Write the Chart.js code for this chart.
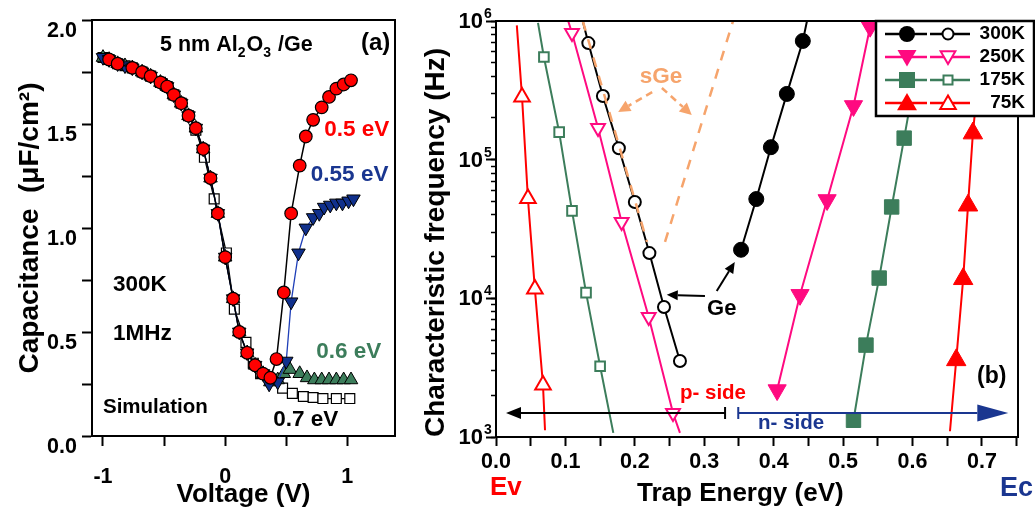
<!DOCTYPE html>
<html><head><meta charset="utf-8">
<script src="https://cdn.jsdelivr.net/npm/chart.js@4.4.1/dist/chart.umd.min.js"></script>
<style>
html,body{margin:0;padding:0;background:#fff;}
#wrap{position:relative;width:1035px;height:510px;overflow:hidden;background:#fff}
#c1{position:absolute;left:0;top:0}
#c2{position:absolute;left:415px;top:0}
</style></head><body>
<div id="wrap"><canvas id="c1" width="415" height="510"></canvas><canvas id="c2" width="620" height="510"></canvas></div>
<script>
// ================= Panel (a): simulated C-V curves =================
const v05  = [-0.95,-0.88,-0.76,-0.68,-0.61,-0.53,-0.475,-0.42,-0.36,-0.30,-0.24,-0.18,-0.12,-0.06,0.00,0.065,0.115,0.18,0.245,0.31,0.37,0.42,0.48,0.54,0.61,0.66,0.72,0.79,0.85,0.91,0.97,1.03];
const c05  = [1.81,1.79,1.77,1.75,1.73,1.70,1.68,1.64,1.60,1.54,1.48,1.38,1.24,1.07,0.86,0.66,0.50,0.40,0.34,0.30,0.28,0.37,0.69,1.07,1.30,1.44,1.52,1.58,1.63,1.67,1.69,1.71];
const v055 = [-1.00,-0.95,-0.88,-0.82,-0.76,-0.68,-0.61,-0.53,-0.475,-0.42,-0.36,-0.30,-0.24,-0.18,-0.12,-0.06,0.00,0.065,0.115,0.18,0.245,0.31,0.36,0.43,0.50,0.54,0.60,0.66,0.72,0.77,0.81,0.86,0.91,0.96,1.01,1.05];
const c055 = [1.82,1.81,1.79,1.78,1.77,1.75,1.73,1.70,1.68,1.64,1.60,1.54,1.48,1.38,1.24,1.07,0.86,0.66,0.50,0.40,0.34,0.30,0.25,0.26,0.36,0.645,0.88,1.00,1.05,1.07,1.10,1.11,1.12,1.12,1.13,1.14];
const v06  = [-1.00,-0.95,-0.88,-0.82,-0.76,-0.68,-0.61,-0.53,-0.475,-0.42,-0.36,-0.30,-0.24,-0.18,-0.12,-0.06,0.00,0.065,0.115,0.18,0.245,0.31,0.37,0.43,0.48,0.53,0.61,0.67,0.73,0.79,0.85,0.91,0.97,1.03];
const c06  = [1.82,1.81,1.79,1.78,1.77,1.75,1.73,1.70,1.68,1.64,1.60,1.54,1.48,1.38,1.24,1.07,0.86,0.66,0.50,0.40,0.34,0.30,0.26,0.27,0.30,0.32,0.30,0.28,0.27,0.27,0.27,0.27,0.27,0.27];
const v07  = [-1.00,-0.95,-0.88,-0.82,-0.76,-0.68,-0.61,-0.53,-0.475,-0.42,-0.36,-0.30,-0.24,-0.17,-0.09,0.01,0.075,0.17,0.23,0.29,0.38,0.47,0.55,0.64,0.72,0.80,0.91,1.02];
const c07  = [1.82,1.81,1.79,1.78,1.77,1.75,1.73,1.70,1.68,1.64,1.60,1.54,1.47,1.34,1.14,0.88,0.61,0.45,0.35,0.30,0.27,0.23,0.205,0.19,0.185,0.18,0.18,0.18];
const voltTicks  = [-1, -0.5, 0, 0.5, 1];
const voltLabels = ['-1', '', '0', '', '1'];
const capTicks   = [0, 0.25, 0.5, 0.75, 1, 1.25, 1.5, 1.75, 2];
const capLabels  = ['0.0', '', '0.5', '', '1.0', '', '1.5', '', '2.0'];

// ================= Panel (b): characteristic frequency vs trap energy =================
// markers (E in eV, f in Hz); *_start / *_end = where the drawn line runs past the last marker
const e300f = [0.353,0.375,0.396,0.419,0.442];  const f300f = [2.24e4,5.2e4,1.23e5,2.98e5,7.18e5];
const l300f_start = null, l300f_end = [0.448,1e6];
const e300o = [0.133,0.154,0.177,0.200,0.221,0.242,0.265]; const f300o = [6.93e5,2.88e5,1.21e5,4.95e4,2.12e4,8.65e3,3.53e3];
const l300o_start = [0.125,1e6], l300o_end = null;
const e250f = [0.405,0.438,0.477,0.515,0.539];  const f250f = [2.18e3,1.06e4,5.12e4,2.44e5,9.1e5];
const l250f_start = null, l250f_end = [0.543,1e6];
const e250o = [0.1095,0.147,0.181,0.220,0.255]; const f250o = [8.18e5,1.69e5,3.55e4,7.33e3,1.49e3];
const l250o_start = [0.104,1e6], l250o_end = [0.265,1.07e3];
const e175f = [0.515,0.533,0.552,0.570,0.588];  const f175f = [1.32e3,4.6e3,1.40e4,4.56e4,1.43e5];
const l175f_start = null, l175f_end = [0.618,1e6];
const e175o = [0.069,0.091,0.1095,0.1297,0.150]; const f175o = [5.5e5,1.58e5,4.27e4,1.10e4,3.24e3];
const l175o_start = [0.0605,9.7e5], l175o_end = [0.169,1.07e3];
const e75f = [0.663,0.673,0.680,0.687];  const f75f = [3.59e3,1.38e4,4.68e4,1.55e5];
const l75f_start = [0.654,1.1e3], l75f_end = [0.703,1e6];
const e75o = [0.0375,0.046,0.056,0.0677]; const f75o = [2.83e5,5.25e4,1.17e4,2.37e3];
const l75o_start = [0.030,9.3e5], l75o_end = [0.0706,1.12e3];
const eSgeL = [0.125,0.2176], fSgeL = [1e6,2.55e4];
const eSgeR = [0.2435,0.3415], fSgeR = [2.55e4,1e6];
const legendLabels = ['300K','250K','175K','75K'];
const energyTicks = [0,0.05,0.1,0.15,0.2,0.25,0.3,0.35,0.4,0.45,0.5,0.55,0.6,0.65,0.7,0.75];
const energyLabels = ['0.0','','0.1','','0.2','','0.3','','0.4','','0.5','','0.6','','0.7',''];
const freqDecades = [1e3,1e4,1e5,1e6];
const freqExponents = ['3','4','5','6'];
const freqMinorTicks = [1e3,2e3,3e3,4e3,5e3,6e3,7e3,8e3,9e3,1e4,2e4,3e4,4e4,5e4,6e4,7e4,8e4,9e4,1e5,2e5,3e5,4e5,5e5,6e5,7e5,8e5,9e5,1e6];

// ================= styling =================
const FONT = '"Liberation Sans", Arial, Helvetica, sans-serif';
Chart.defaults.font.family = FONT;
Chart.defaults.font.weight = 'bold';
Chart.defaults.color = '#000';
const RED = '#ff0000', PINK = '#ff0a80', GREEN = '#3c7d5b', NAVY = '#1a3690', BLUE = '#1f3fb8', ORANGE = '#f6a46c';

function series(xs, ys, start, end) {
  const pts = xs.map((x, i) => ({x, y: ys[i]}));
  if (start) pts.unshift({x: start[0], y: start[1], tail: true});
  if (end) pts.push({x: end[0], y: end[1], tail: true});
  return pts;
}
function ds(data, o) {
  return {
    label: o.label, data,
    borderColor: o.line, borderWidth: o.lw, borderDash: o.dash || [],
    pointStyle: o.style || 'circle', pointRotation: o.rot || 0,
    pointRadius: c => (c.raw && c.raw.tail) ? 0 : (o.r || 0),
    pointBackgroundColor: o.bg || '#fff', pointBorderColor: o.bc || '#000', pointBorderWidth: o.bw || 1,
    pointHoverRadius: 0, tension: 0, fill: false, showLine: true
  };
}
function txt(ctx, s, x, y, size, color, align) {
  ctx.font = 'bold ' + size + 'px ' + FONT;
  ctx.fillStyle = color; ctx.textAlign = align || 'left'; ctx.textBaseline = 'middle';
  ctx.fillText(s, x, y);
}
function arrow(ctx, x1, y1, x2, y2, len, half, color, lw, dash) {
  const a = Math.atan2(y2 - y1, x2 - x1);
  const bx = x2 - len * Math.cos(a), by = y2 - len * Math.sin(a);
  ctx.save();
  ctx.strokeStyle = color; ctx.fillStyle = color; ctx.lineWidth = lw;
  ctx.setLineDash(dash || []);
  ctx.beginPath(); ctx.moveTo(x1, y1); ctx.lineTo(bx, by); ctx.stroke();
  ctx.setLineDash([]);
  ctx.beginPath(); ctx.moveTo(x2, y2);
  ctx.lineTo(bx + half * Math.sin(a), by - half * Math.cos(a));
  ctx.lineTo(bx - half * Math.sin(a), by + half * Math.cos(a));
  ctx.closePath(); ctx.fill();
  ctx.restore();
}
function marker(ctx, style, x, y, r, fill, stroke, lw, rot) {
  ctx.save();
  ctx.beginPath();
  if (style === 'circle') ctx.arc(x, y, r, 0, Math.PI * 2);
  else if (style === 'rect') ctx.rect(x - r, y - r, 2 * r, 2 * r);
  else {
    let a = rot ? Math.PI : 0;
    ctx.moveTo(x + Math.sin(a) * r, y - Math.cos(a) * r);
    a += 2 * Math.PI / 3; ctx.lineTo(x + Math.sin(a) * r, y - Math.cos(a) * r);
    a += 2 * Math.PI / 3; ctx.lineTo(x + Math.sin(a) * r, y - Math.cos(a) * r);
    ctx.closePath();
  }
  ctx.fillStyle = fill; ctx.fill();
  if (lw) { ctx.strokeStyle = stroke; ctx.lineWidth = lw; ctx.stroke(); }
  ctx.restore();
}
function frame(ctx, ca) {
  ctx.save(); ctx.strokeStyle = '#000'; ctx.lineWidth = 2;
  ctx.strokeRect(ca.left, ca.top, ca.right - ca.left, ca.bottom - ca.top);
  ctx.restore();
}

// ================= Panel (a) chart =================
const leftTexts = [
  {t: '0.5 eV',     x: 1.344,  y: 1.471, size: 22.5, color: RED,    align: 'right'},
  {t: '0.55 eV',    x: 1.336,  y: 1.255, size: 22.5, color: NAVY,   align: 'right'},
  {t: '300K',       x: -0.918, y: 0.726, size: 22.5, color: '#000', align: 'left'},
  {t: '1MHz',       x: -0.918, y: 0.490, size: 22.5, color: '#000', align: 'left'},
  {t: '0.6 eV',     x: 0.746,  y: 0.404, size: 22.5, color: GREEN,  align: 'left'},
  {t: 'Simulation', x: -1.0,   y: 0.139, size: 20.5, color: '#000', align: 'left'},
  {t: '0.7 eV',     x: 0.393,  y: 0.077, size: 22.5, color: '#000', align: 'left'},
  {t: '(a)',        x: 1.352,  y: 1.89,  size: 24,   color: '#000', align: 'right'}
];
const leftPlugin = {
  id: 'leftAnno',
  afterDatasetsDraw(chart) {
    const {ctx, chartArea: ca, scales: {x, y}} = chart;
    frame(ctx, ca);
    ctx.save();
    leftTexts.forEach(o => txt(ctx, o.t, x.getPixelForValue(o.x), y.getPixelForValue(o.y), o.size, o.color, o.align));
    // 5 nm Al2O3 /Ge with subscripts
    let px = x.getPixelForValue(-0.533), py = y.getPixelForValue(1.88);
    const parts = [['5 nm Al', 0], ['2', 1], ['O', 0], ['3', 1], [' /Ge', 0]];
    parts.forEach(([s, sub]) => {
      const size = sub ? 14 : 21.5;
      ctx.font = 'bold ' + size + 'px ' + FONT;
      txt(ctx, s, px, sub ? py + 8 : py, size, '#000', 'left');
      px += ctx.measureText(s).width + (sub ? 1 : 0);
    });
    ctx.restore();
  }
};

new Chart(document.getElementById('c1'), {
  type: 'line',
  data: {datasets: [
    ds(series(v05, c05), {label: '0.5 eV', style: 'circle', r: 6.3, bg: RED, bc: '#000', bw: 1.2, line: '#000', lw: 1.5}),
    ds(series(v055, c055), {label: '0.55 eV', style: 'triangle', rot: 180, r: 7.8, bg: '#10308c', bc: '#000', bw: 1, line: BLUE, lw: 1.3}),
    ds(series(v06, c06), {label: '0.6 eV', style: 'triangle', r: 7.8, bg: GREEN, bc: '#000', bw: 1, line: '#000', lw: 1.2}),
    ds(series(v07, c07), {label: '0.7 eV', style: 'rect', r: 7, bg: '#fff', bc: '#000', bw: 1.2, line: '#000', lw: 1.3})
  ]},
  options: {
    responsive: false, animation: false, events: [],
    layout: {padding: {left: 0, top: 20, right: 20, bottom: 0}},
    plugins: {legend: {display: false}, tooltip: {enabled: false}},
    scales: {
      x: {
        type: 'linear', min: -1.09, max: 1.39,
        afterBuildTicks: s => { s.ticks = voltTicks.map(v => ({value: v})); },
        afterFit: s => { s.height = 74; },
        ticks: {callback: (v, i) => voltLabels[i], font: {size: 21.5, weight: 'bold'}, padding: 18, maxRotation: 0, autoSkip: false, color: '#000'},
        grid: {drawOnChartArea: false, tickLength: 10, tickWidth: 2, tickColor: '#000'},
        border: {width: 2, color: '#000'},
        title: {display: true, text: 'Voltage (V)', font: {size: 26, weight: 'bold'}, padding: {top: 0, bottom: 0}, color: '#000'}
      },
      y: {
        type: 'linear', min: 0, max: 2,
        afterBuildTicks: s => { s.ticks = capTicks.map(v => ({value: v})); },
        afterFit: s => { s.width = 92; },
        ticks: {callback: (v, i) => capLabels[i], font: {size: 21.5, weight: 'bold'}, padding: 5, labelOffset: 11, autoSkip: false, color: '#000'},
        grid: {drawOnChartArea: false, tickLength: 10, tickWidth: 2, tickColor: '#000'},
        border: {width: 2, color: '#000'},
        title: {display: true, text: 'Capacitance  (μF/cm²)', font: {size: 28, weight: 'bold'}, padding: {top: 13, bottom: 0}, color: '#000'}
      }
    }
  },
  plugins: [leftPlugin]
});

// ================= Panel (b) chart =================
const rightTexts = [
  {t: 'sGe',     x: 0.2378, y: 3.95e5, size: 22.5, color: ORANGE, align: 'center'},
  {t: 'Ge',      x: 0.304,  y: 8.4e3,  size: 22,   color: '#000', align: 'left'},
  {t: 'p- side', x: 0.265,  y: 2.08e3, size: 20.5, color: RED,    align: 'left'},
  {t: 'n- side', x: 0.3775, y: 1.26e3, size: 20.5, color: NAVY,   align: 'left'},
  {t: '(b)',     x: 0.693,  y: 2.71e3, size: 23,   color: '#000', align: 'left'}
];
const legendStyles = [
  {color: '#000', fs: 'circle', fr: 8, os: 'circle', or: 5.5, rot: 0},
  {color: PINK,   fs: 'triangle', fr: 11, os: 'triangle', or: 8.5, rot: 1},
  {color: GREEN,  fs: 'rect', fr: 8, os: 'rect', or: 4.5, rot: 0},
  {color: RED,    fs: 'triangle', fr: 11.5, os: 'triangle', or: 9, rot: 0}
];
const rightPlugin = {
  id: 'rightAnno',
  afterDatasetsDraw(chart) {
    const {ctx, chartArea: ca, scales: {x, y}} = chart;
    const X = v => x.getPixelForValue(v), Y = v => y.getPixelForValue(v);
    frame(ctx, ca);
    ctx.save();
    // dashed sGe arrows
    arrow(ctx, X(0.225), Y(3.07e5), X(0.176), Y(2.21e5), 12, 6, ORANGE, 2.5, [7, 5]);
    arrow(ctx, X(0.239), Y(3.29e5), X(0.282), Y(2.1e5), 12, 6, ORANGE, 2.5, [7, 5]);
    // Ge arrows
    arrow(ctx, X(0.301), Y(1.04e4), X(0.246), Y(1.06e4), 11, 5, '#000', 2);
    arrow(ctx, X(0.318), Y(1.13e4), X(0.344), Y(1.83e4), 11, 5, '#000', 2);
    // p-side arrow (black) with bar
    const ya = Y(1.49e3);
    arrow(ctx, X(0.330), ya, X(0.0144), ya, 15, 6, '#000', 2);
    ctx.strokeStyle = '#000'; ctx.lineWidth = 2;
    ctx.beginPath(); ctx.moveTo(X(0.330), ya - 6); ctx.lineTo(X(0.330), ya + 6); ctx.stroke();
    // n-side arrow (navy) with bar
    arrow(ctx, X(0.349), ya, X(0.738), ya, 31, 8.5, NAVY, 2);
    ctx.strokeStyle = NAVY;
    ctx.beginPath(); ctx.moveTo(X(0.349), ya - 6); ctx.lineTo(X(0.349), ya + 6); ctx.stroke();
    // texts
    rightTexts.forEach(o => txt(ctx, o.t, X(o.x), Y(o.y), o.size, o.color, o.align));
    txt(ctx, 'Ev', X(-0.0086), ca.bottom + 51, 26, RED, 'left');
    txt(ctx, 'Ec', X(0.726), ca.bottom + 52, 27, NAVY, 'left');
    txt(ctx, 'Trap Energy (eV)', X(0.352), ca.bottom + 57, 26, '#000', 'center');
    // exponents of 10^n tick labels
    freqDecades.forEach((d, i) => txt(ctx, freqExponents[i], ca.left - 12, Y(d) - 7, 14, '#000', 'left'));
    // legend
    const L = ca.right - 142, R = ca.right + 16, T = ca.top;
    ctx.fillStyle = '#fff'; ctx.fillRect(L, T, R - L, 95);
    ctx.strokeStyle = '#000'; ctx.lineWidth = 2.5; ctx.strokeRect(L, T, R - L, 95);
    legendStyles.forEach((s, i) => {
      const yy = T + 13 + i * 23;
      ctx.strokeStyle = s.color; ctx.lineWidth = 2.5;
      ctx.beginPath(); ctx.moveTo(L + 9, yy); ctx.lineTo(L + 51, yy); ctx.moveTo(L + 54, yy); ctx.lineTo(L + 94, yy); ctx.stroke();
      const dy = s.fs === 'triangle' ? (s.rot ? -1.5 : 1.5) : 0;
      marker(ctx, s.fs, L + 31, yy + dy, s.fr, s.color, s.color, 0, s.rot);
      marker(ctx, s.os, L + 72, yy + dy, s.or, '#fff', s.color, 2, s.rot);
      txt(ctx, legendLabels[i], R - 9, yy, 19, '#000', 'right');
    });
    ctx.restore();
  }
};

new Chart(document.getElementById('c2'), {
  type: 'line',
  data: {datasets: [
    ds(series(eSgeL, fSgeL), {label: 'sGe', r: 0, line: ORANGE, lw: 2.5, dash: [10, 9]}),
    ds(series(eSgeR, fSgeR), {label: 'sGe', r: 0, line: ORANGE, lw: 2.5, dash: [10, 9]}),
    ds(series(e300o, f300o, l300o_start, l300o_end), {label: '300K open', style: 'circle', r: 6, bg: '#fff', bc: '#000', bw: 2, line: '#000', lw: 2}),
    ds(series(e300f, f300f, l300f_start, l300f_end), {label: '300K', style: 'circle', r: 7.5, bg: '#000', bc: '#000', bw: 1, line: '#000', lw: 2}),
    ds(series(e250o, f250o, l250o_start, l250o_end), {label: '250K open', style: 'triangle', rot: 180, r: 8, bg: '#fff', bc: PINK, bw: 2, line: PINK, lw: 2}),
    ds(series(e250f, f250f, l250f_start, l250f_end), {label: '250K', style: 'triangle', rot: 180, r: 10.5, bg: PINK, bc: PINK, bw: 1, line: PINK, lw: 2}),
    ds(series(e175o, f175o, l175o_start, l175o_end), {label: '175K open', style: 'rect', r: 6.8, bg: '#fff', bc: GREEN, bw: 2, line: GREEN, lw: 2}),
    ds(series(e175f, f175f, l175f_start, l175f_end), {label: '175K', style: 'rect', r: 10.2, bg: GREEN, bc: GREEN, bw: 1, line: GREEN, lw: 2}),
    ds(series(e75o, f75o, l75o_start, l75o_end), {label: '75K open', style: 'triangle', r: 9, bg: '#fff', bc: RED, bw: 2, line: RED, lw: 2}),
    ds(series(e75f, f75f, l75f_start, l75f_end), {label: '75K', style: 'triangle', r: 11.2, bg: RED, bc: RED, bw: 1, line: RED, lw: 2})
  ]},
  options: {
    responsive: false, animation: false, events: [],
    layout: {padding: {left: 0, top: 21, right: 17, bottom: 0}},
    plugins: {legend: {display: false}, tooltip: {enabled: false}},
    scales: {
      x: {
        type: 'linear', min: 0, max: 0.752,
        afterBuildTicks: s => { s.ticks = energyTicks.map(v => ({value: v})); },
        afterFit: s => { s.height = 73; },
        ticks: {callback: (v, i) => energyLabels[i], font: {size: 21.5, weight: 'bold'}, padding: 3, maxRotation: 0, autoSkip: false, color: '#000'},
        grid: {drawOnChartArea: false, tickLength: 9, tickWidth: 2, tickColor: '#000'},
        border: {width: 2, color: '#000'}
      },
      y: {
        type: 'logarithmic', min: 1e3, max: 1e6, weight: 1,
        afterBuildTicks: s => { s.ticks = freqDecades.map(v => ({value: v})); },
        afterFit: s => { s.width = 81; },
        ticks: {callback: () => '10', font: {size: 22, weight: 'bold'}, padding: 3, labelOffset: 1, autoSkip: false, color: '#000'},
        grid: {drawOnChartArea: false, tickLength: 10, tickWidth: 2, tickColor: '#000'},
        border: {width: 2, color: '#000'},
        title: {display: true, align: 'start', text: 'Characteristic frequency (Hz)', font: {size: 28, weight: 'bold'}, padding: {top: 4, bottom: 0}, color: '#000'}
      },
      yMinor: {
        type: 'logarithmic', min: 1e3, max: 1e6, position: 'left', weight: 0,
        afterBuildTicks: s => { s.ticks = freqMinorTicks.map(v => ({value: v})); },
        afterFit: s => { s.width = 0; },
        ticks: {display: false},
        grid: {drawOnChartArea: false, tickLength: 5, tickWidth: 1.5, tickColor: '#000'},
        border: {display: false}
      }
    }
  },
  plugins: [rightPlugin]
});
</script>
</body></html>
